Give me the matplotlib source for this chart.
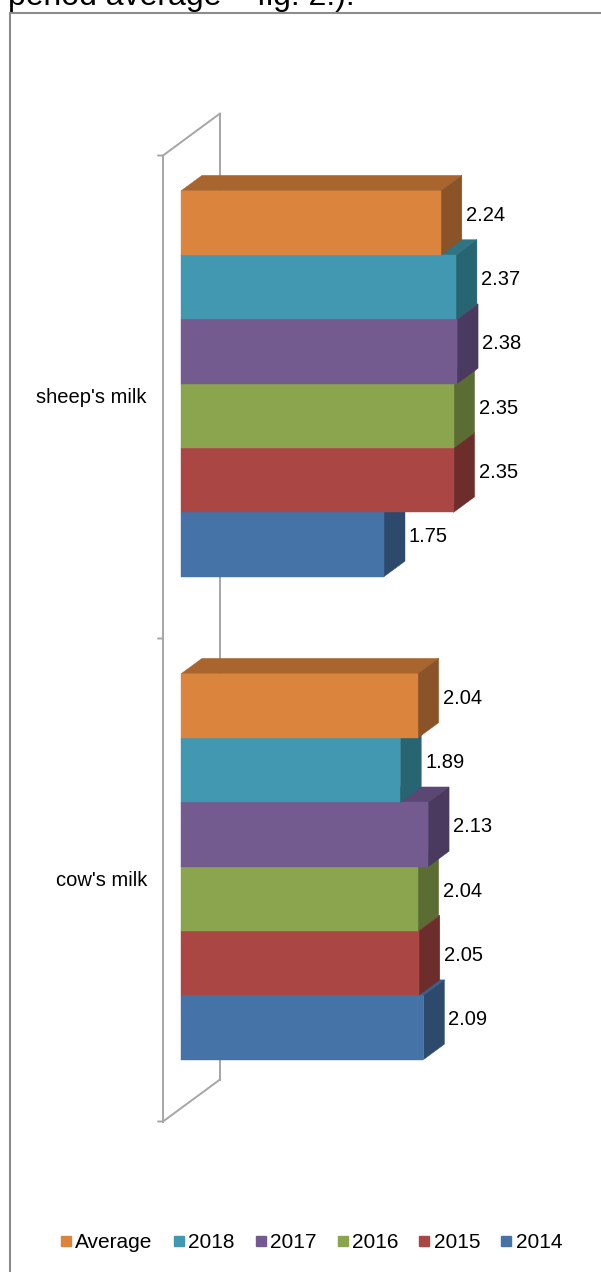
# -*- coding: utf-8 -*-
import numpy as np
import matplotlib
matplotlib.use('Agg')
import matplotlib.pyplot as plt
from matplotlib.patches import Polygon, Rectangle
from matplotlib.lines import Line2D

plt.rcParams['font.family'] = ['Liberation Sans', 'DejaVu Sans']

categories = ["sheep's milk", "cow's milk"]
series = ['Average', '2018', '2017', '2016', '2015', '2014']
sheep_milk = [2.24, 2.37, 2.38, 2.35, 2.35, 1.75]
cow_milk = [2.04, 1.89, 2.13, 2.04, 2.05, 2.09]
values = [sheep_milk, cow_milk]

front_colors = ['#DA843D', '#4198B0', '#735A8F', '#8AA54E', '#AA4744', '#4673A7']
top_colors = ['#A8652E', '#2F7586', '#5A4774', '#6E853D', '#8C3A37', '#3A5F8C']
side_colors = ['#8A5328', '#276573', '#4B3A5F', '#5B6D33', '#6D2D2B', '#2D4A6D']

# oblique depth of the chart floor, in pixels (x right, y up)
DX, DY = 57, 42
BAR_DEPTH = 21 / 57
BAR_H = 64.3 / 483
WALL = '#A6A6A6'

fig = plt.figure(figsize=(6.01, 12.72), dpi=100)
ax = fig.add_axes([0, 0, 1, 1])
ax.set_xlim(-191.5 / 116, (601 - 191.5) / 116)
ax.set_ylim((1272 - 376) / 483, -376 / 483)
ax.axis('off')


def proj(v, c, d):
    # push a point (value, category) back by d times the depth vector
    p = ax.transData.transform((v, c)) + d * np.array([DX, DY])
    return ax.transData.inverted().transform(p)


def face(pts, color):
    ax.add_patch(Polygon(pts, closed=True, facecolor=color, edgecolor=color,
                         lw=0.3, zorder=3))


# side wall of the category axis
c0, c1 = -0.5, 1.5
for d in (-0.5, 0.5):
    a, b = proj(0, c0, d), proj(0, c1, d)
    ax.plot([a[0], b[0]], [a[1], b[1]], color=WALL, lw=1.4, zorder=1)
for c in (c0, c1):
    a, b = proj(0, c, -0.5), proj(0, c, 0.5)
    ax.plot([a[0], b[0]], [a[1], b[1]], color=WALL, lw=1.4, zorder=1)
for c in (-0.5, 0.5, 1.5):
    a = proj(0, c, -0.5)
    ax.annotate('', xy=a, xytext=(-5, 0), textcoords='offset pixels',
                arrowprops=dict(arrowstyle='-', color=WALL, lw=1.4,
                                shrinkA=0, shrinkB=0))

df, db = -BAR_DEPTH / 2, BAR_DEPTH / 2
for ci, vals in enumerate(values):
    for k in reversed(range(len(series))):
        v = vals[k]
        yc = ci + (k - 2.5) * BAR_H
        y0, y1 = yc - BAR_H / 2, yc + BAR_H / 2
        face([proj(0, y0, df), proj(v, y0, df), proj(v, y0, db), proj(0, y0, db)],
             top_colors[k])
        face([proj(v, y0, df), proj(v, y1, df), proj(v, y1, db), proj(v, y0, db)],
             side_colors[k])
        face([proj(0, y0, df), proj(v, y0, df), proj(v, y1, df), proj(0, y1, df)],
             front_colors[k])
        ax.annotate('%.2f' % v, xy=proj(v, yc, 0), xytext=(DX * db + 4, 0),
                    textcoords='offset pixels', ha='left', va='center',
                    fontsize=14.5, zorder=5)
    ax.annotate(categories[ci], xy=proj(0, ci, -0.5), xytext=(-16, 0),
                textcoords='offset pixels', ha='right', va='center',
                fontsize=14.5)

handles = [Line2D([], [], marker='s', linestyle='none', markersize=7.5,
                  color=col) for col in front_colors]
fig.legend(handles, series, loc='center', bbox_to_anchor=(311.5 / 601, 1 - 1243 / 1272),
           ncol=6, frameon=False, fontsize=15, handlelength=0.5,
           handletextpad=0.2, columnspacing=1.0, borderpad=0)

# chart border, only its top and left edges fall inside the image
fig.add_artist(Rectangle((9.5 / 601, -0.1), 2, 1.1 - 12.5 / 1272, transform=fig.transFigure,
                         fill=False, edgecolor='#8C8C8C', lw=1.5, clip_on=False))
fig.text(8 / 601, 1 - 5 / 1272, 'period average \u2013 fig. 2.).', fontsize=23,
         va='baseline', ha='left')

plt.savefig('out.png', dpi=100)
